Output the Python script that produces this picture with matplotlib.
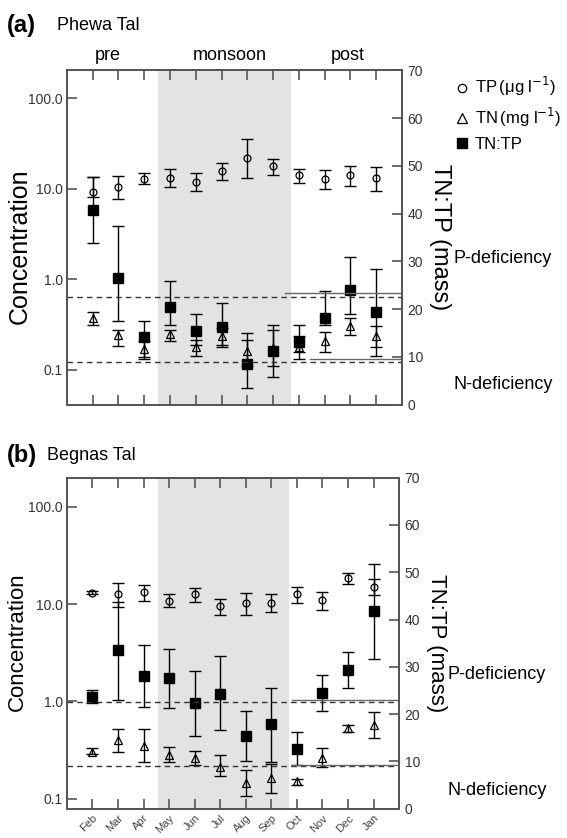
import matplotlib.pyplot as plt
import numpy as np
from matplotlib.lines import Line2D
from matplotlib.ticker import FixedLocator, FixedFormatter, NullLocator

plt.rcParams['font.family'] = ['Liberation Sans', 'DejaVu Sans']

months = ['Feb', 'Mar', 'Apr', 'May', 'Jun', 'Jul', 'Aug', 'Sep', 'Oct', 'Nov', 'Dec', 'Jan']
seasons = ['pre', 'monsoon', 'post']

# Phewa Tal -- TP (ug/l), TN (mg/l), TN:TP (mass) with lower / upper bounds
phewa_tp = [9.3, 10.4, 12.9, 13.2, 12.0, 15.6, 21.9, 17.7, 14.1, 12.9, 14.1, 13.1]
phewa_tp_lo = [8.2, 7.7, 11.2, 10.4, 9.5, 12.4, 13.1, 14.1, 11.7, 10.0, 10.7, 9.4]
phewa_tp_hi = [13.6, 13.7, 14.9, 16.4, 15.1, 19.4, 35.3, 21.5, 16.4, 16.0, 17.7, 17.4]
phewa_tn = [0.369, 0.245, 0.17, 0.249, 0.178, 0.235, 0.16, 0.174, 0.178, 0.21, 0.308, 0.235]
phewa_tn_lo = [0.316, 0.182, 0.131, 0.206, 0.141, 0.18, 0.109, 0.111, 0.131, 0.158, 0.245, 0.18]
phewa_tn_hi = [0.438, 0.278, 0.206, 0.278, 0.215, 0.29, 0.215, 0.278, 0.235, 0.26, 0.37, 0.308]
phewa_ratio = [40.7, 26.6, 14.1, 20.4, 15.5, 16.2, 8.5, 11.2, 13.1, 18.2, 24.1, 19.4]
phewa_ratio_lo = [33.8, 17.5, 10.1, 16.8, 12.5, 12.6, 3.5, 5.9, 11.0, 16.6, 19.0, 10.3]
phewa_ratio_hi = [47.6, 37.4, 17.6, 25.9, 18.9, 21.2, 15.0, 16.6, 16.6, 23.8, 30.9, 28.5]

# Begnas Tal
begnas_tp = [13.1, 12.7, 13.3, 10.9, 12.7, 9.5, 10.3, 10.3, 12.7, 11.0, 18.7, 15.1]
begnas_tp_lo = [12.7, 9.3, 10.7, 9.3, 10.5, 7.8, 7.8, 8.3, 10.3, 8.8, 16.3, 12.4]
begnas_tp_hi = [13.8, 16.6, 15.9, 12.6, 14.7, 11.4, 13.0, 12.6, 14.9, 13.2, 21.0, 18.0]
begnas_tn = [0.30, 0.40, 0.35, 0.28, 0.26, 0.21, 0.144, 0.162, 0.153, 0.26, 0.53, 0.566]
begnas_tn_lo = [0.286, 0.305, 0.24, 0.24, 0.22, 0.17, 0.107, 0.115, 0.14, 0.21, 0.49, 0.42]
begnas_tn_hi = [0.33, 0.52, 0.52, 0.34, 0.31, 0.28, 0.197, 0.226, 0.16, 0.33, 0.566, 0.77]
begnas_ratio = [23.7, 33.5, 28.1, 27.6, 22.3, 24.3, 15.4, 17.8, 12.7, 24.5, 29.4, 41.9]
begnas_ratio_lo = [22.3, 23.0, 21.5, 21.3, 15.3, 16.6, 10.1, 9.8, 9.2, 20.7, 25.6, 31.7]
begnas_ratio_hi = [25.0, 43.6, 34.7, 33.8, 29.2, 32.2, 20.7, 25.5, 16.2, 28.3, 33.1, 51.8]

# deficiency thresholds (TN:TP by mass)
p_limit = 22.6
n_limit = 9.0

GREY = '#555555'
x = np.arange(len(months))


def err(v, lo, hi):
    v = np.array(v)
    return [v - np.array(lo), np.array(hi) - v]


def panel(ax, tp, tp_lo, tp_hi, tn, tn_lo, tn_hi, r, r_lo, r_hi, ylim, post_lines):
    ax2 = ax.twinx()
    ax.set_zorder(1)
    ax2.set_zorder(2)
    ax.axvspan(2.55, 7.68, color='#e3e3e3', lw=0, zorder=0)

    kw = dict(fmt='none', ecolor='black', elinewidth=1.0, capsize=4.5, capthick=1.0)
    ax.errorbar(x, tp, yerr=err(tp, tp_lo, tp_hi), **kw)
    ax.errorbar(x, tn, yerr=err(tn, tn_lo, tn_hi), **kw)
    ax.plot(x, tp, 'o', ms=5, mfc='none', mec='black', mew=0.9)
    ax.plot(x, tn, '^', ms=5.5, mfc='none', mec='black', mew=0.9)
    ax2.errorbar(x, r, yerr=err(r, r_lo, r_hi), **kw)
    ax2.plot(x, r, 's', ms=6.5, color='black')

    ax2.axhline(p_limit, color='#333333', ls=(0, (4, 3)), lw=1.0)
    ax2.axhline(n_limit, color='#333333', ls=(0, (4, 3)), lw=1.0)
    for start, level in post_lines:
        ax2.plot([start, 12], [level, level], color='#666666', lw=1.0)

    ax.set_yscale('log')
    ax.set_ylim(*ylim)
    ax.set_xlim(-1, 12)
    ax2.set_ylim(0, 70)
    ax.yaxis.set_major_locator(FixedLocator([0.1, 1, 10, 100]))
    ax.yaxis.set_major_formatter(FixedFormatter(['0.1', '1.0', '10.0', '100.0']))
    ax.yaxis.set_minor_locator(NullLocator())
    ax2.set_yticks(range(0, 71, 10))
    ax.set_xticks(x)

    for a in (ax, ax2):
        for s in a.spines.values():
            s.set_color(GREY)
            s.set_linewidth(1.3)
    ax.tick_params(axis='both', direction='in', length=7, width=1.2, color=GREY,
                   labelsize=10, labelcolor='#333333', pad=3)
    ax.tick_params(axis='x', top=True, bottom=True)
    ax2.tick_params(axis='y', direction='in', length=7, width=1.2, color=GREY,
                    labelsize=10, labelcolor='#333333', pad=4)
    return ax2


fig = plt.figure(figsize=(5.67, 8.38), dpi=100)
ax_a = fig.add_axes([0.118, 0.517, 0.591, 0.399])
ax_b = fig.add_axes([0.118, 0.035, 0.586, 0.395])

panel(ax_a, phewa_tp, phewa_tp_lo, phewa_tp_hi, phewa_tn, phewa_tn_lo, phewa_tn_hi,
      phewa_ratio, phewa_ratio_lo, phewa_ratio_hi, (0.041, 204),
      [(7.45, 23.3), (8.45, 9.5)])
panel(ax_b, begnas_tp, begnas_tp_lo, begnas_tp_hi, begnas_tn, begnas_tn_lo, begnas_tn_hi,
      begnas_ratio, begnas_ratio_lo, begnas_ratio_hi, (0.079, 200),
      [(7.8, 22.9), (7.8, 9.2)])

ax_a.set_xticklabels([])
ax_b.set_xticklabels(months, rotation=45, ha='right', rotation_mode='anchor', fontsize=8,
                     color='#444444')

# season names above panel (a)
for xs, name in zip([0.6, 5.3, 9.9], seasons):
    ax_a.text(xs, 1.02, name, transform=ax_a.get_xaxis_transform(), ha='center',
              va='bottom', fontsize=13)

# axis titles
fig.text(20 / 567, 1 - 246 / 838, 'Concentration', fontsize=18, rotation=90,
         ha='center', va='center')
fig.text(17 / 567, 1 - 642 / 838, 'Concentration', fontsize=16, rotation=90,
         ha='center', va='center')
fig.text(440 / 567, 1 - 237 / 838, 'TN:TP (mass)', fontsize=17, rotation=270,
         ha='center', va='center')
fig.text(436 / 567, 1 - 643 / 838, 'TN:TP (mass)', fontsize=16, rotation=270,
         ha='center', va='center')

fig.text(0.012, 0.970, '(a)', fontsize=17, fontweight='bold', va='center')
fig.text(0.100, 0.969, 'Phewa Tal', fontsize=13, va='center')
fig.text(0.012, 0.457, '(b)', fontsize=17, fontweight='bold', va='center')
fig.text(0.083, 0.457, 'Begnas Tal', fontsize=13, va='center')

fig.text(0.800, 0.692, 'P-deficiency', fontsize=13, va='center')
fig.text(0.800, 0.541, 'N-deficiency', fontsize=13, va='center')
fig.text(0.790, 0.195, 'P-deficiency', fontsize=13, va='center')
fig.text(0.790, 0.057, 'N-deficiency', fontsize=13, va='center')

handles = [
    Line2D([], [], ls='none', marker='o', ms=6, mfc='none', mec='black', mew=0.9),
    Line2D([], [], ls='none', marker='^', ms=6.5, mfc='none', mec='black', mew=0.9),
    Line2D([], [], ls='none', marker='s', ms=7, color='black'),
]
labels = [r'TP$\,$(μg l$^{-1}$)', r'TN$\,$(mg l$^{-1}$)', 'TN:TP']
fig.legend(handles, labels, loc='upper left', bbox_to_anchor=(0.785, 0.918),
           frameon=False, fontsize=12, handletextpad=0.2, labelspacing=0.45,
           handlelength=1.2, borderaxespad=0)

fig.savefig('out.png', dpi=100)
